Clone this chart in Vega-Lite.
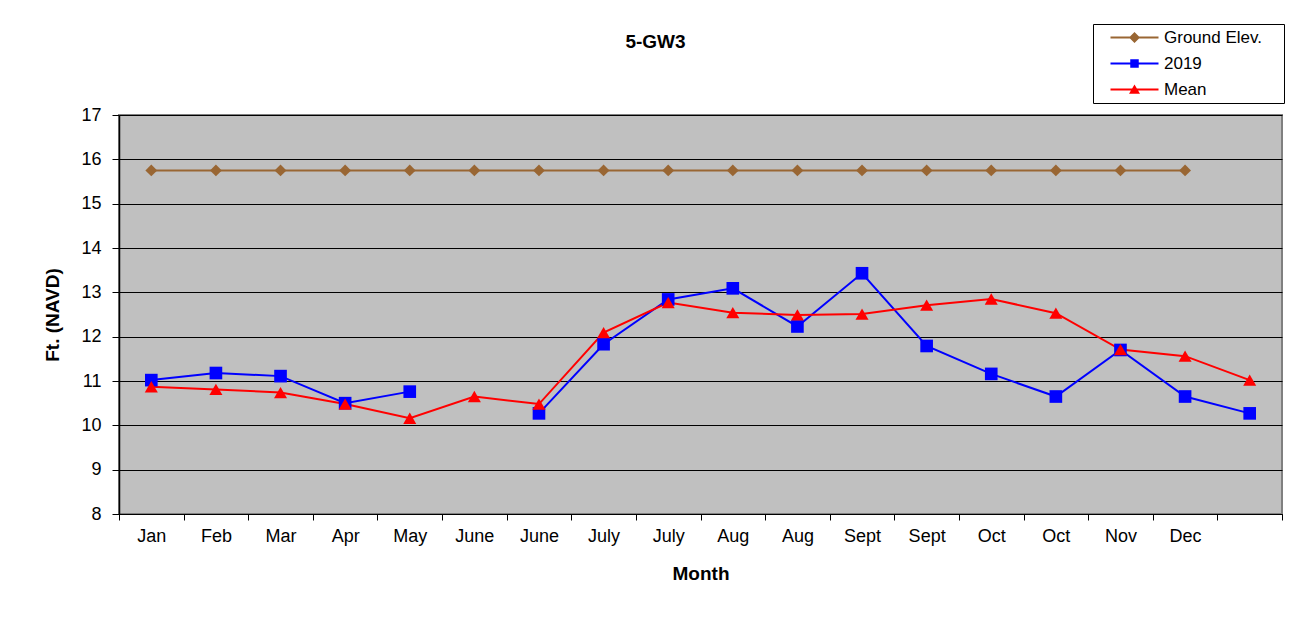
{
  "$schema": "https://vega.github.io/schema/vega-lite/v6.json",
  "width": 1163,
  "height": 399,
  "autosize": "none",
  "padding": {"left": 119, "top": 115, "right": 22, "bottom": 108},
  "background": "white",
  "title": {
    "text": "5-GW3",
    "font": "Liberation Sans",
    "fontSize": 19,
    "fontWeight": "bold",
    "color": "#000000",
    "anchor": "middle",
    "baseline": "middle",
    "offset": -37,
    "dx": -45
  },
  "config": {
    "view": {"fill": "#C0C0C0", "stroke": "#808080", "strokeWidth": 2},
    "font": "Liberation Sans",
    "axis": {
      "labelFont": "Liberation Sans",
      "titleFont": "Liberation Sans",
      "labelColor": "#000000",
      "titleColor": "#000000",
      "domainColor": "#000000",
      "tickColor": "#000000",
      "labelFontSize": 18,
      "titleFontSize": 19,
      "titleFontWeight": "bold"
    }
  },
  "data": {
    "values": [
      {"idx": 1, "series": "Ground Elev.", "value": 15.75},
      {"idx": 2, "series": "Ground Elev.", "value": 15.75},
      {"idx": 3, "series": "Ground Elev.", "value": 15.75},
      {"idx": 4, "series": "Ground Elev.", "value": 15.75},
      {"idx": 5, "series": "Ground Elev.", "value": 15.75},
      {"idx": 6, "series": "Ground Elev.", "value": 15.75},
      {"idx": 7, "series": "Ground Elev.", "value": 15.75},
      {"idx": 8, "series": "Ground Elev.", "value": 15.75},
      {"idx": 9, "series": "Ground Elev.", "value": 15.75},
      {"idx": 10, "series": "Ground Elev.", "value": 15.75},
      {"idx": 11, "series": "Ground Elev.", "value": 15.75},
      {"idx": 12, "series": "Ground Elev.", "value": 15.75},
      {"idx": 13, "series": "Ground Elev.", "value": 15.75},
      {"idx": 14, "series": "Ground Elev.", "value": 15.75},
      {"idx": 15, "series": "Ground Elev.", "value": 15.75},
      {"idx": 16, "series": "Ground Elev.", "value": 15.75},
      {"idx": 17, "series": "Ground Elev.", "value": 15.75},
      {"idx": 1, "series": "2019", "value": 11.02},
      {"idx": 2, "series": "2019", "value": 11.18},
      {"idx": 3, "series": "2019", "value": 11.11},
      {"idx": 4, "series": "2019", "value": 10.50},
      {"idx": 5, "series": "2019", "value": 10.76},
      {"idx": 6, "series": "2019", "value": null},
      {"idx": 7, "series": "2019", "value": 10.27},
      {"idx": 8, "series": "2019", "value": 11.83},
      {"idx": 9, "series": "2019", "value": 12.84},
      {"idx": 10, "series": "2019", "value": 13.09},
      {"idx": 11, "series": "2019", "value": 12.23},
      {"idx": 12, "series": "2019", "value": 13.43},
      {"idx": 13, "series": "2019", "value": 11.79},
      {"idx": 14, "series": "2019", "value": 11.16},
      {"idx": 15, "series": "2019", "value": 10.65},
      {"idx": 16, "series": "2019", "value": 11.70},
      {"idx": 17, "series": "2019", "value": 10.65},
      {"idx": 18, "series": "2019", "value": 10.27},
      {"idx": 1, "series": "Mean", "value": 10.87},
      {"idx": 2, "series": "Mean", "value": 10.81},
      {"idx": 3, "series": "Mean", "value": 10.74},
      {"idx": 4, "series": "Mean", "value": 10.48},
      {"idx": 5, "series": "Mean", "value": 10.16},
      {"idx": 6, "series": "Mean", "value": 10.65},
      {"idx": 7, "series": "Mean", "value": 10.48},
      {"idx": 8, "series": "Mean", "value": 12.09},
      {"idx": 9, "series": "Mean", "value": 12.77},
      {"idx": 10, "series": "Mean", "value": 12.54},
      {"idx": 11, "series": "Mean", "value": 12.49},
      {"idx": 12, "series": "Mean", "value": 12.51},
      {"idx": 13, "series": "Mean", "value": 12.71},
      {"idx": 14, "series": "Mean", "value": 12.85},
      {"idx": 15, "series": "Mean", "value": 12.53},
      {"idx": 16, "series": "Mean", "value": 11.71},
      {"idx": 17, "series": "Mean", "value": 11.56},
      {"idx": 18, "series": "Mean", "value": 11.02}
    ]
  },
  "encoding": {
    "x": {
      "field": "idx",
      "type": "ordinal",
      "scale": {"domain": [1,2,3,4,5,6,7,8,9,10,11,12,13,14,15,16,17,18], "paddingInner": 0, "paddingOuter": 0},
      "axis": {
        "title": "Month",
        "labelAngle": 0,
        "tickBand": "extent",
        "tickSize": 6,
        "labelPadding": 7,
        "titlePadding": 19,
        "domainWidth": 1,
        "labelExpr": "['Jan','Feb','Mar','Apr','May','June','June','July','July','Aug','Aug','Sept','Sept','Oct','Oct','Nov','Dec',''][datum.value - 1]"
      }
    },
    "y": {
      "field": "value",
      "type": "quantitative",
      "scale": {"domain": [8, 17], "nice": false, "zero": false},
      "axis": {
        "title": "Ft. (NAVD)",
        "values": [8, 9, 10, 11, 12, 13, 14, 15, 16, 17],
        "grid": true,
        "gridColor": "#000000",
        "gridOpacity": 1,
        "gridWidth": 1,
        "tickSize": 7,
        "labelPadding": 11,
        "titlePadding": 18,
        "domainWidth": 1.5
      }
    }
  },
  "layer": [
    {
      "transform": [{"filter": "datum.series === 'Ground Elev.'"}],
      "mark": {"type": "line", "strokeWidth": 2, "color": "#996633"}
    },
    {
      "transform": [{"filter": "datum.series === '2019'"}],
      "mark": {"type": "line", "strokeWidth": 2, "color": "#0000FF", "invalid": "break-paths-show-domains"}
    },
    {
      "transform": [{"filter": "datum.series === 'Mean'"}],
      "mark": {"type": "line", "strokeWidth": 2, "color": "#FF0000"}
    },
    {
      "transform": [{"filter": "datum.series === 'Ground Elev.'"}],
      "mark": {"type": "point", "shape": "diamond", "size": 140, "filled": true, "opacity": 1, "color": "#996633"}
    },
    {
      "transform": [{"filter": "datum.series === '2019' && datum.value != null"}],
      "mark": {"type": "point", "shape": "square", "size": 160, "filled": true, "opacity": 1, "color": "#0000FF"}
    },
    {
      "transform": [{"filter": "datum.series === 'Mean'"}],
      "mark": {"type": "point", "shape": "triangle-up", "size": 170, "filled": true, "opacity": 1, "color": "#FF0000"}
    },
    {
      "transform": [{"filter": "datum.idx === 1"}],
      "mark": {"type": "point", "filled": true, "opacity": 1, "size": 100, "clip": true},
      "encoding": {
        "y": {"datum": 40},
        "color": {
          "field": "series",
          "type": "nominal",
          "scale": {"domain": ["Ground Elev.", "2019", "Mean"], "range": ["#996633", "#0000FF", "#FF0000"]},
          "legend": {
            "title": "\u00a0",
            "titleOrient": "right",
            "titlePadding": 17,
            "titleFontSize": 17,
            "orient": "none",
            "legendX": 974,
            "legendY": -91,
            "direction": "vertical",
            "strokeColor": "#000000",
            "fillColor": "#FFFFFF",
            "padding": 5,
            "labelFont": "Liberation Sans",
            "labelFontSize": 17,
            "labelColor": "#000000",
            "symbolSize": 100,
            "symbolStrokeWidth": 0,
            "symbolOpacity": 1,
            "symbolOffset": 28,
            "labelOffset": 21,
            "rowPadding": 8
          }
        },
        "shape": {
          "field": "series",
          "type": "nominal",
          "scale": {
            "domain": ["Ground Elev.", "2019", "Mean"],
            "range": [
              "M-4.8,-0.2L4.8,-0.2L4.8,0.2L-4.8,0.2ZM0,-1.1L1.1,0L0,1.1L-1.1,0Z",
              "M-4.8,-0.2L4.8,-0.2L4.8,0.2L-4.8,0.2ZM-0.85,-0.85L0.85,-0.85L0.85,0.85L-0.85,0.85Z",
              "M-4.8,-0.2L4.8,-0.2L4.8,0.2L-4.8,0.2ZM0,-1L1.1,0.85L-1.1,0.85Z"
            ]
          },
          "legend": {
            "title": "\u00a0",
            "titleOrient": "right",
            "titlePadding": 17,
            "titleFontSize": 17,
            "orient": "none",
            "legendX": 974,
            "legendY": -91,
            "direction": "vertical",
            "strokeColor": "#000000",
            "fillColor": "#FFFFFF",
            "padding": 5,
            "labelFont": "Liberation Sans",
            "labelFontSize": 17,
            "labelColor": "#000000",
            "symbolSize": 100,
            "symbolStrokeWidth": 0,
            "symbolOpacity": 1,
            "symbolOffset": 28,
            "labelOffset": 21,
            "rowPadding": 8
          }
        }
      }
    }
  ]
}
